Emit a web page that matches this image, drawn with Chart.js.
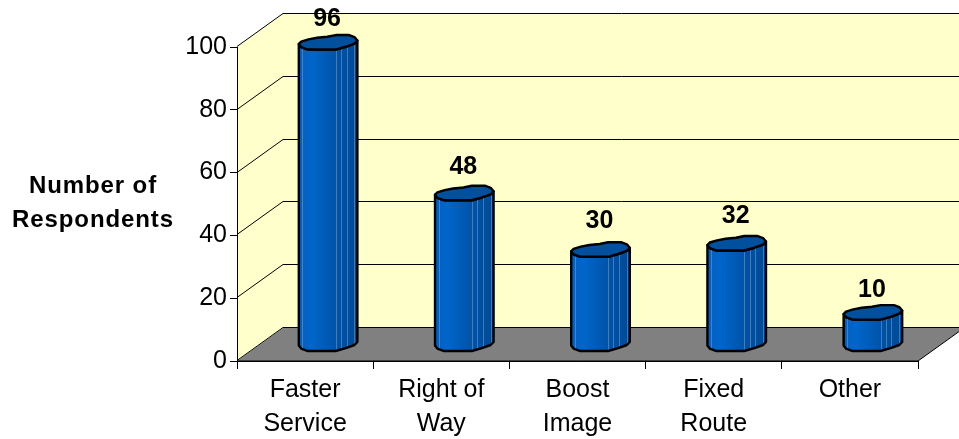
<!DOCTYPE html>
<html>
<head>
<meta charset="utf-8">
<title>Number of Respondents</title>
<script src="https://cdn.jsdelivr.net/npm/chart.js@4/dist/chart.umd.min.js"></script>
<style>
  html, body { margin: 0; padding: 0; background: #fff; }
  #wrap { position: relative; width: 959px; height: 439px; }
</style>
</head>
<body>
<div id="wrap"><canvas id="chart" width="959" height="439"></canvas></div>
<script>
'use strict';

const CATEGORIES = [['Faster', 'Service'], ['Right of', 'Way'], ['Boost', 'Image'], ['Fixed', 'Route'], ['Other']];
const RESPONDENTS = [96, 48, 30, 32, 10];
const AXIS_TITLE = ['Number of', 'Respondents'];

const FONT = '"Liberation Sans", Arial, sans-serif';
const DEPTH_X = 46;     // how far the back wall sits from the front plane
const DEPTH_Y = 33;
const LABEL_LIFT = [24, 27, 29, 28, 23];   // value label height above each cap

// Wobbly outline of the column, relative to its centre: fraction of half width, px
const CAP_BACK  = [[-1, 1], [-0.92, -1.5], [-0.67, -3.7], [-0.38, -5.3], [-0.03, -6.3], [0.26, -8], [0.72, -8], [0.9, -6], [1, -2.5]];
const CAP_FRONT = [[1, -2.5], [0.9, 0.5], [0.6, 3.7], [0.26, 6.5], [-0.69, 6.5], [-0.92, 4], [-1, 1]];
const FACET_LINES = [-0.88, 0.26, 0.44, 0.63, 0.9];

// ── Walls and floor ──────────────────────────────────────────────────────────

const wallsPlugin = {
    id: 'walls',
    beforeDatasetsDraw(chart) {
        const { ctx, chartArea: a, scales: { y } } = chart;
        const zero = y.getPixelForValue(0);
        const top  = y.getPixelForValue(100);
        ctx.save();

        // side wall and back wall
        ctx.fillStyle = '#ffffcc';
        ctx.beginPath();
        ctx.moveTo(a.left, zero);
        ctx.lineTo(a.left, top);
        ctx.lineTo(a.left + DEPTH_X, top - DEPTH_Y);
        ctx.lineTo(a.right + DEPTH_X, top - DEPTH_Y);
        ctx.lineTo(a.right + DEPTH_X, zero - DEPTH_Y);
        ctx.lineTo(a.left + DEPTH_X, zero - DEPTH_Y);
        ctx.closePath();
        ctx.fill();

        // floor
        ctx.fillStyle = '#808080';
        ctx.beginPath();
        ctx.moveTo(a.left, zero);
        ctx.lineTo(a.left + DEPTH_X, zero - DEPTH_Y);
        ctx.lineTo(a.right + DEPTH_X, zero - DEPTH_Y);
        ctx.lineTo(a.right, zero);
        ctx.closePath();
        ctx.fill();

        // gridlines run along the side wall, then across the back
        ctx.strokeStyle = '#000';
        ctx.lineWidth = 1;
        y.ticks.forEach(t => {
            const py = Math.round(y.getPixelForValue(t.value)) - 0.5;
            ctx.beginPath();
            ctx.moveTo(a.left, py);
            ctx.lineTo(a.left + DEPTH_X, py - DEPTH_Y);
            ctx.lineTo(a.right + DEPTH_X, py - DEPTH_Y);
            ctx.stroke();
        });

        // front right edge of the floor
        ctx.beginPath();
        ctx.moveTo(a.right, zero);
        ctx.lineTo(a.right + DEPTH_X, zero - DEPTH_Y);
        ctx.stroke();

        // axis lines on top of the fills
        ctx.beginPath();
        ctx.moveTo(a.left + 0.5, top);
        ctx.lineTo(a.left + 0.5, zero);
        ctx.lineTo(a.right, zero);
        ctx.stroke();
        ctx.restore();
    }
};

// ── Columns ──────────────────────────────────────────────────────────────────

function tracePoints(ctx, pts, cx, cy, half, first) {
    pts.forEach(([dx, dy], i) => {
        const px = cx + dx * half;
        const py = cy + dy;
        if (first && i === 0) ctx.moveTo(px, py);
        else ctx.lineTo(px, py);
    });
}

function traceBody(ctx, cx, topY, botY, half) {
    // front half of the base, up the side, front half of the cap back down
    ctx.beginPath();
    tracePoints(ctx, CAP_FRONT, cx, botY, half, true);
    tracePoints(ctx, [...CAP_FRONT].reverse(), cx, topY, half, false);
    ctx.closePath();
}

function drawColumn(ctx, bar, zero) {
    const half = bar.width / 2;
    const cx   = bar.x + DEPTH_X / 2;
    const topY = bar.y - DEPTH_Y / 2;
    const botY = zero - DEPTH_Y / 2;

    const grad = ctx.createLinearGradient(cx - half, 0, cx + half, 0);
    grad.addColorStop(0, '#0a5cb8');
    grad.addColorStop(0.2, '#0066cc');
    grad.addColorStop(0.65, '#0052a6');
    grad.addColorStop(1, '#004a94');

    traceBody(ctx, cx, topY, botY, half);
    ctx.fillStyle = grad;
    ctx.fill();

    // facet seams
    ctx.save();
    ctx.clip();
    ctx.strokeStyle = 'rgba(120,170,215,0.5)';
    ctx.lineWidth = 1;
    FACET_LINES.forEach(f => {
        const px = Math.round(cx + f * half) + 0.5;
        ctx.beginPath();
        ctx.moveTo(px, topY - 10);
        ctx.lineTo(px, botY + 10);
        ctx.stroke();
    });
    ctx.restore();

    traceBody(ctx, cx, topY, botY, half);
    ctx.strokeStyle = '#000';
    ctx.lineWidth = 2.4;
    ctx.lineJoin = 'round';
    ctx.stroke();

    // cap
    ctx.beginPath();
    tracePoints(ctx, CAP_BACK, cx, topY, half, true);
    tracePoints(ctx, CAP_FRONT, cx, topY, half, false);
    ctx.closePath();
    ctx.fillStyle = '#00509e';
    ctx.fill();
    ctx.stroke();
}

const columnsPlugin = {
    id: 'columns',
    beforeDatasetDraw(chart, args) {
        const { ctx, scales: { y } } = chart;
        const zero = y.getPixelForValue(0);
        ctx.save();
        args.meta.data.forEach(bar => drawColumn(ctx, bar, zero));
        ctx.restore();
        return false;
    },
    afterDatasetsDraw(chart) {
        const { ctx } = chart;
        const meta = chart.getDatasetMeta(0);
        ctx.save();
        ctx.fillStyle = '#000';
        ctx.font = 'bold 25px ' + FONT;
        ctx.textAlign = 'center';
        ctx.textBaseline = 'middle';
        meta.data.forEach((bar, i) => {
            ctx.fillText(String(RESPONDENTS[i]), bar.x + DEPTH_X / 2 - 1, bar.y - DEPTH_Y / 2 - LABEL_LIFT[i]);
        });

        // horizontal axis title
        ctx.font = 'bold 24px ' + FONT;
        ctx.textBaseline = 'alphabetic';
        ctx.letterSpacing = '0.9px';
        ctx.fillText(AXIS_TITLE[0], 93, 193);
        ctx.fillText(AXIS_TITLE[1], 93, 227);
        ctx.restore();
    }
};

// ── Chart ────────────────────────────────────────────────────────────────────

new Chart(document.getElementById('chart'), {
    type: 'bar',
    data: {
        labels: CATEGORIES,
        datasets: [{ data: RESPONDENTS, barPercentage: 0.43, categoryPercentage: 1 }]
    },
    options: {
        responsive: false,
        animation: false,
        layout: { padding: { top: 47, right: 41, left: 0, bottom: 0 } },
        plugins: { legend: { display: false }, tooltip: { enabled: false } },
        scales: {
            x: {
                afterFit(scale) { scale.height = 78; },
                grid: { offset: true, drawOnChartArea: false, color: '#000', tickLength: 8 },
                border: { color: '#000' },
                ticks: {
                    color: '#000',
                    maxRotation: 0,
                    padding: 4,
                    font: { family: FONT, size: 25, lineHeight: 1.36 }
                }
            },
            y: {
                min: 0,
                max: 100,
                afterFit(scale) { scale.width = 237; },
                grid: { drawOnChartArea: false, color: '#000', tickLength: 7 },
                border: { color: '#000' },
                ticks: {
                    stepSize: 20,
                    color: '#000',
                    padding: 3,
                    font: { family: FONT, size: 25 }
                }
            }
        }
    },
    plugins: [wallsPlugin, columnsPlugin]
});
</script>
</body>
</html>
